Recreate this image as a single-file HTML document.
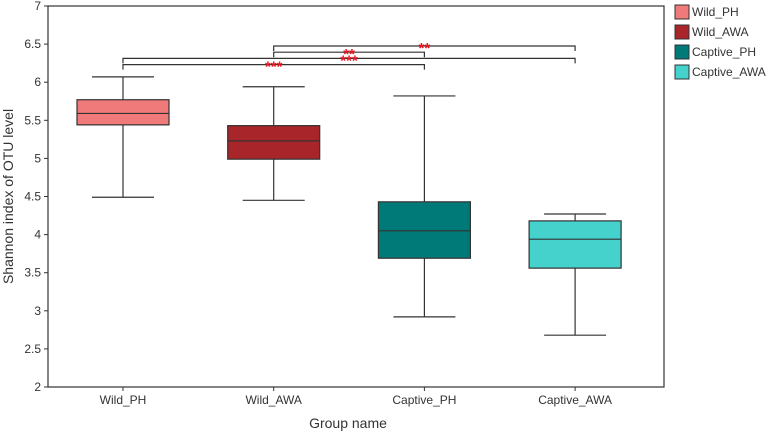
<!DOCTYPE html>
<html><head><meta charset="utf-8"><style>
body{margin:0;background:#fff;}
svg{display:block;font-family:"Liberation Sans",Arial,sans-serif;}
</style></head><body>
<svg id="c" width="767" height="432"></svg>
<script>
const groups=["Wild_PH","Wild_AWA","Captive_PH","Captive_AWA"];
const colors=["#f07a7a","#a8262a","#007a78","#45d2cc"];
const whiskLow=[4.49,4.45,2.92,2.68];
const q1=[5.44,4.99,3.69,3.56];
const medians=[5.59,5.23,4.05,3.94];
const q3=[5.77,5.43,4.43,4.18];
const whiskHigh=[6.07,5.94,5.82,4.27];
const yTicks=[2,2.5,3,3.5,4,4.5,5,5.5,6,6.5,7];
const sigPairs=[[1,3,"**"],[1,2,"**"],[0,3,"***"],[0,2,"***"]];
const NS="http://www.w3.org/2000/svg";
const svg=document.getElementById('c');
const L=48,R=664,T=6,B=387;
const y=v=>B-(v-2)/(5)*(B-T);
const x=i=>123+i*150.7;
function mk(t,a,p){const e=document.createElementNS(NS,t);for(const k in a)e.setAttribute(k,a[k]);(p||svg).appendChild(e);return e;}
let e;
e=mk('rect',{x:L,y:T,width:R-L,height:B-T,fill:'none',stroke:'#333','stroke-width':1.2});


yTicks.forEach(v=>{
 e=mk('line',{x1:L-4,x2:L,y1:y(v),y2:y(v),stroke:'#333'});
 
 
 e=mk('text',{x:L-7,y:y(v)+4,'text-anchor':'end','font-size':12,fill:'#333'});e.textContent=v;
 
 
});
groups.forEach((g,i)=>{
 const cx=x(i);
 e=mk('line',{x1:cx,x2:cx,y1:B,y2:B+4,stroke:'#333'});
 
 
 e=mk('text',{x:cx,y:B+17,'text-anchor':'middle','font-size':12,fill:'#333'});e.textContent=g;
 
 
 const gg=mk('g',{});
 
 
 mk('line',{x1:cx,x2:cx,y1:y(whiskLow[i]),y2:y(whiskHigh[i]),stroke:'#333','stroke-width':1.2},gg);
 mk('line',{x1:cx-31,x2:cx+31,y1:y(whiskLow[i]),y2:y(whiskLow[i]),stroke:'#333','stroke-width':1.2},gg);
 mk('line',{x1:cx-31,x2:cx+31,y1:y(whiskHigh[i]),y2:y(whiskHigh[i]),stroke:'#333','stroke-width':1.2},gg);
 mk('rect',{x:cx-46,y:y(q3[i]),width:92,height:y(q1[i])-y(q3[i]),fill:colors[i],stroke:'#333','stroke-width':1.2},gg);
 mk('line',{x1:cx-46,x2:cx+46,y1:y(medians[i]),y2:y(medians[i]),stroke:'#333','stroke-width':1.2},gg);
});
sigPairs.forEach((p,k)=>{
 const yy=46+k*6.2,a=x(p[0]),b=x(p[1]);
 e=mk('path',{d:`M${a},${yy+5}V${yy}H${b}V${yy+5}`,fill:'none',stroke:'#333','stroke-width':1.2});
 
 
 e=mk('text',{x:(a+b)/2,y:yy+7,'text-anchor':'middle','font-size':15,'font-weight':'bold',fill:'#e8141e'});e.textContent=p[2];
 
 
});
e=mk('text',{x:348,y:428,'text-anchor':'middle','font-size':14,fill:'#333'});e.textContent='Group name';


e=mk('text',{x:0,y:0,'text-anchor':'middle','font-size':14,fill:'#333',transform:`translate(13,${(T+B)/2}) rotate(-90)`});e.textContent='Shannon index of OTU level';


groups.forEach((g,i)=>{
 const gg=mk('g',{});
 
 
 mk('rect',{x:675,y:5+i*20,width:14,height:14,fill:colors[i],stroke:'#333','stroke-width':1},gg);
 const t=mk('text',{x:692,y:16+i*20,'font-size':12,fill:'#333'},gg);t.textContent=g;
});
</script>
</body></html>
